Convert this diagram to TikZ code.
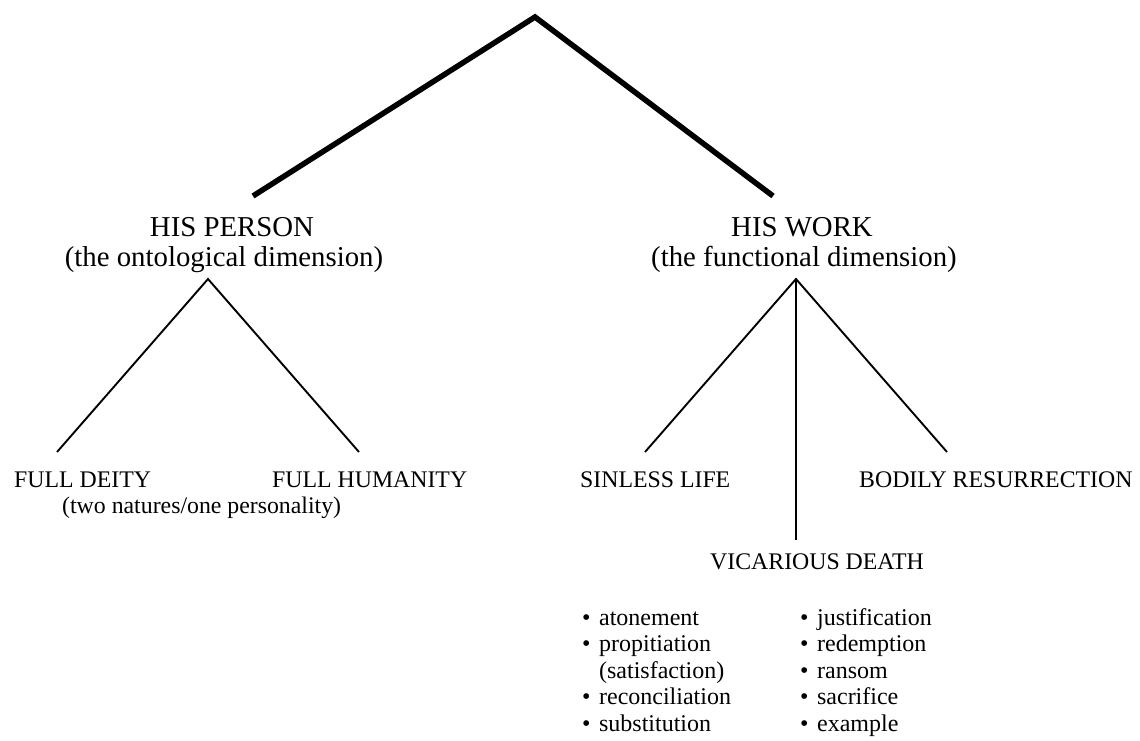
\documentclass[tikz,border=0pt]{standalone}
\usepackage{fontspec}
\setmainfont{Liberation Serif}
\begin{document}
\begin{tikzpicture}[x=1pt,y=-1pt,
  title/.style={font=\fontsize{28.8}{31}\selectfont, inner sep=0pt, anchor=base, text depth=0pt},
  sub/.style={font=\fontsize{28.8}{31}\selectfont, inner sep=0pt, anchor=base, text height=20pt},
  lab/.style={font=\fontsize{23.8}{26}\selectfont, inner sep=0pt, anchor=base west},
  item/.style={font=\fontsize{24}{26}\selectfont, inner sep=0pt, anchor=base west},
  thickline/.style={line width=5.5pt},
  thinline/.style={line width=1.9pt}]
\useasboundingbox (0,0) rectangle (1140,740);

% root
\coordinate (root) at (535,17);
\coordinate (personTop) at (253,196);
\coordinate (workTop) at (773,196);
\draw[thickline] (personTop) -- (root) -- (workTop);

% titles
\node[title] (person) at (232,236) {HIS PERSON};
\node[sub] (onto) at (224,266) {(the ontological dimension)};
\node[title] (work) at (802,236) {HIS WORK};
\node[sub] (func) at (804,266) {(the functional dimension)};

% person branch
\coordinate (pApex) at (208,279);
\coordinate (pL) at (57,452);
\coordinate (pR) at (359,452);
\draw[thinline] (pL) -- (pApex) -- (pR);
\node[lab] (deity) at (14,487) {FULL DEITY};
\node[lab] (human) at (272,487) {FULL HUMANITY};
\node[lab] (natures) at (62,513) {(two natures/one personality)};

% work branch
\coordinate (wApex) at (796,279);
\coordinate (wL) at (645,452);
\coordinate (wR) at (947,452);
\coordinate (wB) at (796,540);
\draw[thinline] (wL) -- (wApex) -- (wR);
\draw[thinline] (wApex) -- (wB);
\node[lab] (sinless) at (580,487) {SINLESS LIFE};
\node[lab] (bodily) at (859,487) {BODILY RESURRECTION};
\node[lab] (vicarious) at (710,569) {VICARIOUS DEATH};

% lists
\newcommand{\bul}{\textbullet\hspace{8.5pt}}
\newcommand{\nobul}{\phantom{\textbullet}\hspace{8.5pt}}
\node[item] (a1) at (582,625) {\bul atonement};
\node[item] (a2) at (582,651.5) {\bul propitiation};
\node[item] (a3) at (582,678) {\nobul(satisfaction)};
\node[item] (a4) at (582,704.5) {\bul reconciliation};
\node[item] (a5) at (582,731) {\bul substitution};
\node[item] (b1) at (800,625) {\bul justification};
\node[item] (b2) at (800,651.5) {\bul redemption};
\node[item] (b3) at (800,678) {\bul ransom};
\node[item] (b4) at (800,704.5) {\bul sacrifice};
\node[item] (b5) at (800,731) {\bul example};
\end{tikzpicture}
\end{document}
